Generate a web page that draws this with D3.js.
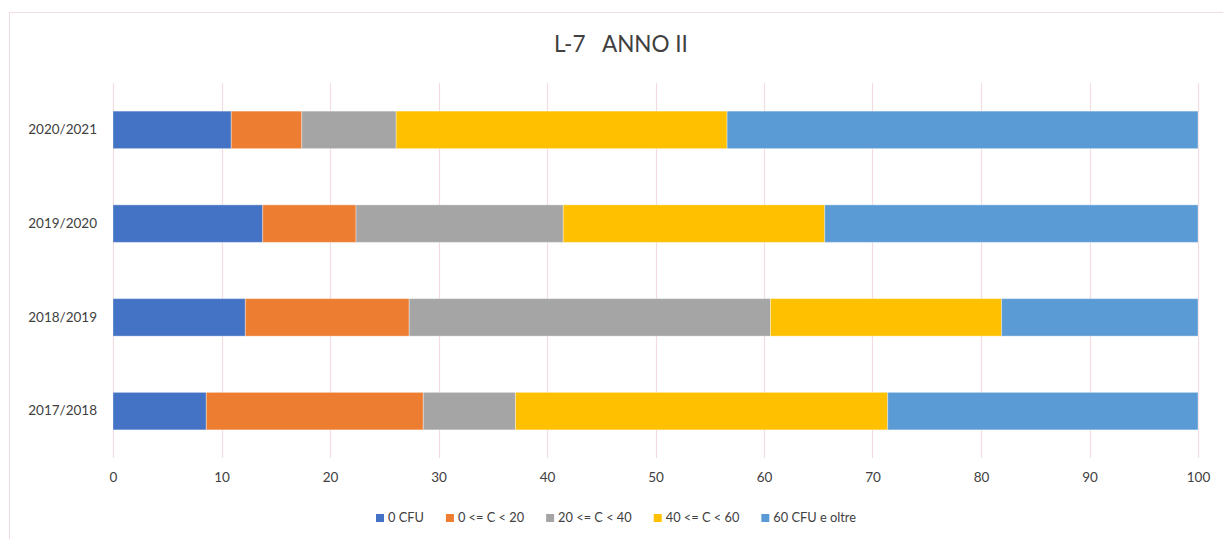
<!DOCTYPE html>
<html>
<head>
<meta charset="utf-8">
<script src="https://cdn.jsdelivr.net/npm/d3@7"></script>
<style>
  html, body { margin: 0; padding: 0; background: #fff; }
  svg { display: block; }
  text { font-family: Lato, "Open Sans", "Noto Sans", sans-serif; fill: #404040; }
</style>
</head>
<body>
<svg id="chart" width="1223" height="539"></svg>
<script>
const title = "L-7   ANNO II";
const categories = ["2020/2021", "2019/2020", "2018/2019", "2017/2018"];
const seriesNames = ["0 CFU", "0 <= C < 20", "20 <= C < 40", "40 <= C < 60", "60 CFU e oltre"];
const seriesColors = ["#4472C4", "#ED7D31", "#A5A5A5", "#FFC000", "#5B9BD5"];
const s0CFU   = [10.9, 13.8, 12.2, 8.6];
const s0to20  = [6.5, 8.6, 15.1, 20.0];
const s20to40 = [8.7, 19.1, 33.3, 8.5];
const s40to60 = [30.5, 24.1, 21.3, 34.3];
const s60plus = [43.4, 34.4, 18.1, 28.6];
const xTicks = [0, 10, 20, 30, 40, 50, 60, 70, 80, 90, 100];

const seriesValues = [s0CFU, s0to20, s20to40, s40to60, s60plus];
const rows = categories.map((c, i) => {
  const r = { category: c };
  seriesNames.forEach((n, k) => r[n] = seriesValues[k][i]);
  return r;
});

const svg = d3.select("#chart");
const W = 1223, H = 539;
const margin = { left: 113, right: 25, top: 83, bottom: 81 };

// outer chart border
svg.append("rect")
  .attr("x", 9.5).attr("y", 12.5)
  .attr("width", 1240).attr("height", 560)
  .attr("fill", "none").attr("stroke", "#F2DCE0").attr("stroke-width", 1);

const x = d3.scaleLinear().domain([0, 100]).range([margin.left, W - margin.right]);
const y = d3.scaleBand().domain(categories).range([margin.top, H - margin.bottom]).paddingInner(0.6).paddingOuter(0.3);

// gridlines
svg.append("g").selectAll("line").data(xTicks).join("line")
  .attr("x1", d => Math.round(x(d)) + 0.5).attr("x2", d => Math.round(x(d)) + 0.5)
  .attr("y1", margin.top).attr("y2", H - margin.bottom)
  .attr("stroke", "#F2DCE0").attr("stroke-width", 1.2);

// stacked bars
const stack = d3.stack().keys(seriesNames);
const stacked = stack(rows);
svg.append("g").selectAll("g").data(stacked).join("g")
  .attr("fill", (d, i) => seriesColors[i])
  .selectAll("rect").data(d => d).join("rect")
  .attr("x", d => x(d[0]))
  .attr("width", d => x(d[1]) - x(d[0]))
  .attr("y", d => y(d.data.category))
  .attr("height", y.bandwidth())
  .attr("stroke", "#ffffff").attr("stroke-opacity", 0.35).attr("stroke-width", 1);

// x axis labels
const xAxis = d3.axisBottom(x).tickValues(xTicks).tickSize(0).tickPadding(14);
const gx = svg.append("g").attr("transform", `translate(0,${H - margin.bottom})`).call(xAxis);
gx.select(".domain").remove();
gx.selectAll("text").style("font-size", "13.5px").style("font-family", "Lato, 'Open Sans', sans-serif").attr("fill", "#404040");

// y axis labels
const yAxis = d3.axisLeft(y).tickSize(0).tickPadding(16);
const gy = svg.append("g").attr("transform", `translate(${margin.left},0)`).call(yAxis);
gy.select(".domain").remove();
gy.selectAll("text").style("font-size", "13.5px").style("font-family", "Lato, 'Open Sans', sans-serif").attr("fill", "#404040");

// title
svg.append("text").attr("x", 621).attr("y", 52)
  .attr("text-anchor", "middle").style("font-size", "22.5px").style("white-space", "pre")
  .attr("fill", "#404040")
  .text(title);

// legend
const legend = svg.append("g");
const items = legend.selectAll("g").data(seriesNames).join("g");
items.append("rect").attr("width", 8).attr("height", 8).attr("y", -4)
  .attr("fill", (d, i) => seriesColors[i]);
items.append("text").attr("x", 12).attr("dy", "0.35em")
  .style("font-size", "12.8px").attr("fill", "#404040").text(d => d);
let off = 0;
const gap = 22;
items.each(function() {
  const w = 12 + this.querySelector("text").getComputedTextLength();
  d3.select(this).attr("transform", `translate(${off},0)`);
  off += w + gap;
});
const total = off - gap;
legend.attr("transform", `translate(${616 - total / 2},518)`);
</script>
</body>
</html>
